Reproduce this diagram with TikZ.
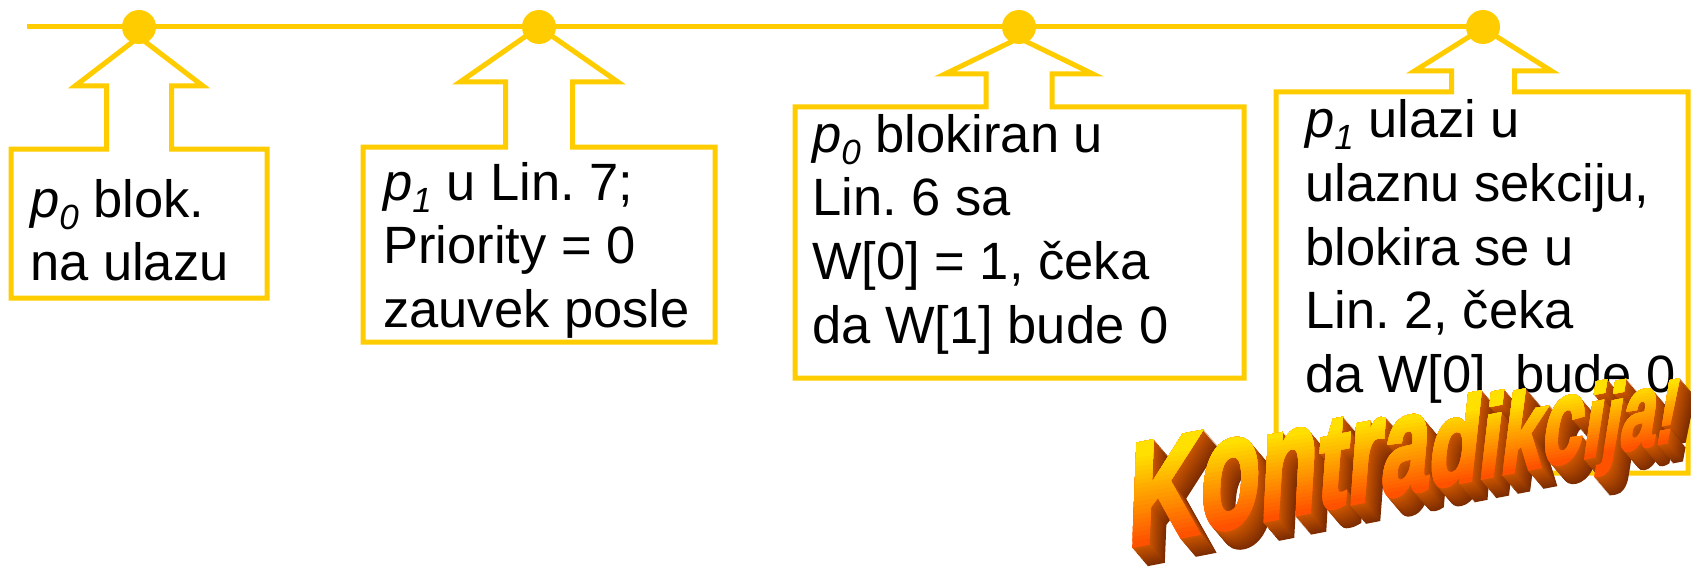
\documentclass[tikz,border=0pt]{standalone}
\usepackage{fontspec}
\setmainfont{Liberation Sans}
\newfontfamily\wafont{Liberation Sans}[BoldFeatures={FakeBold=3}]
\frenchspacing

\definecolor{gold}{RGB}{255,204,0}
\definecolor{waTop}{RGB}{255,228,0}
\definecolor{waBot}{RGB}{255,78,0}
\definecolor{waNear}{RGB}{200,84,0}
\definecolor{waFar}{RGB}{125,44,0}

\tikzset{
  rail/.style={gold, line width=5pt},
  pin/.style={fill=gold},
  callout/.style={draw=gold, fill=white, line width=5pt, miter limit=10},
  note/.style={anchor=base west, inner sep=0pt, align=left,
               font=\fontsize{52.5}{63.7}\selectfont},
  wl/.style={anchor=base west, inner sep=0pt, outer sep=0pt, transform shape,
             font=\wafont\bfseries\fontsize{146}{150}\selectfont},
  wordframe/.style={shift={(1127,547)}, yslant=0.194},
}

% italic process name with a lowered index
\newcommand\proc[1]{{\itshape p\raisebox{-12pt}{\fontsize{35}{35}\selectfont #1}}}

% callout: #1 tip x, #2 tip y, #3 head y, #4 half head width, #5 half neck width,
%          #6 box left, #7 box top, #8 box right, #9 box bottom
\newcommand\callout[9]{%
  \draw[callout] (#6,#9) -- (#8,#9) -- (#8,#7) -- (#1+#5,#7) -- (#1+#5,#3)
    -- (#1+#4,#3) -- (#1,#2) -- (#1-#4,#3) -- (#1-#5,#3) -- (#1-#5,#7)
    -- (#6,#7) -- cycle;}

% the lettering, one glyph per node, shrinking and leaning along the line
\def\wx{.684}
\def\wy{1.14}
\newcommand\wordchain[1]{%
  \node[wl,text=#1,scale=1.0000,xscale=\wx,xslant=.060] (w1) at (0,0) {K};
  \node[wl,text=#1,scale=.9692,xscale=\wx,yscale=\wy,xslant=.077] (w2) at (w1.base east) {o};
  \node[wl,text=#1,scale=.9385,xscale=\wx,yscale=\wy,xslant=.094] (w3) at (w2.base east) {n};
  \node[wl,text=#1,scale=.9077,xscale=\wx,xslant=.111] (w4) at (w3.base east) {t};
  \node[wl,text=#1,scale=.8769,xscale=\wx,yscale=\wy,xslant=.128] (w5) at (w4.base east) {r};
  \node[wl,text=#1,scale=.8462,xscale=\wx,yscale=\wy,xslant=.145] (w6) at (w5.base east) {a};
  \node[wl,text=#1,scale=.8154,xscale=\wx,xslant=.162] (w7) at (w6.base east) {d};
  \node[wl,text=#1,scale=.7846,xscale=\wx,xslant=.178] (w8) at (w7.base east) {i};
  \node[wl,text=#1,scale=.7538,xscale=\wx,xslant=.195] (w9) at (w8.base east) {k};
  \node[wl,text=#1,scale=.7231,xscale=\wx,yscale=\wy,xslant=.212] (w10) at (w9.base east) {c};
  \node[wl,text=#1,scale=.6923,xscale=\wx,xslant=.229] (w11) at (w10.base east) {i};
  \node[wl,text=#1,scale=.6615,xscale=\wx,xslant=.246] (w12) at (w11.base east) {j};
  \node[wl,text=#1,scale=.6308,xscale=\wx,yscale=\wy,xslant=.263] (w13) at (w12.base east) {a};
  \node[wl,text=#1,scale=.6000,xscale=\wx,xslant=.280] (w14) at (w13.base east) {!};
}

\begin{document}
\begin{tikzpicture}[x=1pt,y=-1pt]
\useasboundingbox (0,0) rectangle (1691,567);

% time line and its four marked instants
\coordinate (r0) at (27,27);
\coordinate (d1) at (139,27);
\coordinate (d2) at (539,27);
\coordinate (d3) at (1019,27);
\coordinate (d4) at (1483,27);
\draw[rail] (r0) -- (d4);

% callouts pointing up at the instants
\callout{139}{37}{86}{64}{32.5}{11}{149}{267}{298}
\callout{539}{27}{82}{79}{33.5}{363}{147}{715}{342}
\callout{1019}{38}{74}{74}{33}{795}{107}{1244}{378}
\callout{1483}{28}{71}{68.5}{31.5}{1276}{92}{1688}{473}

\foreach \d in {d1,d2,d3,d4} \fill[pin] (\d) circle[radius=17];

% callout texts (anchored on the baseline of the last line)
\node[note] (t1) at (30,280.7) {\proc{0} blok.\\na ulazu};
\node[note] (t2) at (383,327.4) {\proc{1} u Lin. 7;\\Priority = 0\\zauvek posle};
\node[note] (t3) at (812,343.1) {\proc{0} blokiran u\\Lin. 6 sa\\W[0] = 1, čeka\\da W[1] bude 0};
\node[note] (t4) at (1305,392.5) {\proc{1} ulazi u\\ulaznu sekciju,\\blokira se u\\Lin. 2, čeka\\da W[0]\ \ bude 0};

% extruded lettering: depth slices from back to front
\foreach \k in {18,...,1} {
  \pgfmathsetmacro\m{100*(\k-1)/17}
  \colorlet{depthc}{waFar!\m!waNear}
  \begin{scope}[shift={(0.85*\k,1.0*\k)}]
    \begin{scope}[wordframe]
      \wordchain{depthc}
    \end{scope}
  \end{scope}
}

% front face: yellow at the top fading to red-orange at the baseline
\begin{scope}[wordframe]
  \foreach \j in {0,...,20} {
    \pgfmathsetmacro\fa{\j==0 ? -0.6 : \j/21}
    \pgfmathsetmacro\pc{100*(\j+0.5)/21}
    \colorlet{bandc}{waTop!\pc!waBot}
    \begin{scope}
      \clip (-60,{-\fa*96}) -- (620,{-\fa*56}) -- (620,-170) -- (-60,-170) -- cycle;
      \wordchain{bandc}
    \end{scope}
  }
\end{scope}
\end{tikzpicture}
\end{document}
